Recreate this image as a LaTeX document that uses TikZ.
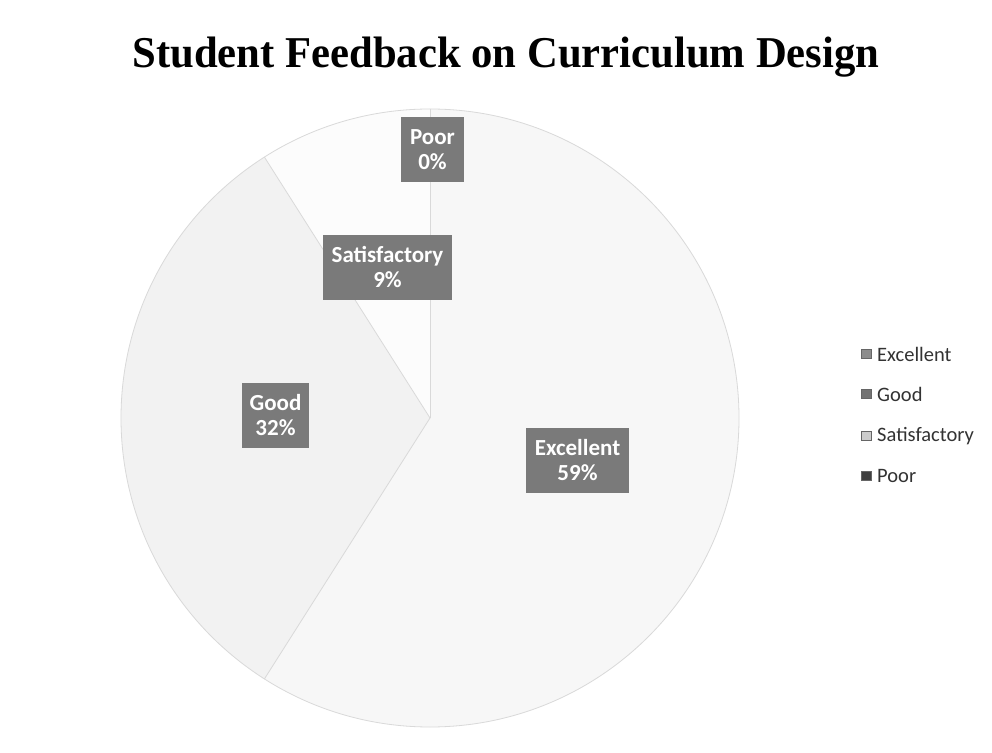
\documentclass[tikz,border=0pt]{standalone}
\usepackage{fontspec}
\setmainfont{Liberation Serif}
\newfontfamily\carlitofont{Carlito}
\begin{document}
\begin{tikzpicture}[x=1pt,y=1pt,
  slice/.style={draw=black!15,line width=0.8pt},
  lbl/.style={fill=black!52,text=white,font=\carlitofont\bfseries\fontsize{23}{25}\selectfont,align=center,inner sep=1pt},
  legsq/.style={draw=black!60,line width=0.5pt,minimum size=9.5pt,inner sep=0pt},
  legtx/.style={anchor=west,text=black!80,font=\carlitofont\fontsize{20.5}{22}\selectfont,inner sep=0pt}]
\useasboundingbox[fill=white] (0,0) rectangle (992,752);
\coordinate (c) at (430,334);
% slices
\fill[black!3] (c) -- ++(90:309) arc[start angle=90,end angle=-122.4,radius=309] -- cycle;
\fill[black!5] (c) -- ++(-122.4:309) arc[start angle=-122.4,end angle=-237.6,radius=309] -- cycle;
\fill[black!1] (c) -- ++(122.4:309) arc[start angle=122.4,end angle=90,radius=309] -- cycle;
\draw[slice] (c) circle[radius=309];
\draw[slice] (c) -- ++(90:309);
\draw[slice] (c) -- ++(-122.4:309);
\draw[slice] (c) -- ++(122.4:309);
% title
\node[font=\bfseries\fontsize{44}{48}\selectfont,xscale=0.97] (title) at (506,695) {Student Feedback on Curriculum Design};
% labels
\node[lbl,minimum width=63pt,minimum height=65pt] (poor) at (432.5,602.5) {Poor\\0\%};
\node[lbl,minimum width=129pt,minimum height=65pt] (sat) at (387.5,484.5) {Satisfactory\\9\%};
\node[lbl,minimum width=67pt,minimum height=65pt] (good) at (275.5,336.5) {Good\\32\%};
\node[lbl,minimum width=103pt,minimum height=65pt] (exc) at (577.5,291.5) {Excellent\\59\%};
% legend
\node[legsq,fill=black!45] (s1) at (866,398) {};
\node[legtx] (t1) at (877,398) {Excellent};
\node[legsq,fill=black!55] (s2) at (866,358) {};
\node[legtx] (t2) at (877,358) {Good};
\node[legsq,fill=black!20] (s3) at (866,316) {};
\node[legtx] (t3) at (877,316) {Satisfactory};
\node[legsq,fill=black!75] (s4) at (866,276) {};
\node[legtx] (t4) at (877,276) {Poor};
\end{tikzpicture}
\end{document}
